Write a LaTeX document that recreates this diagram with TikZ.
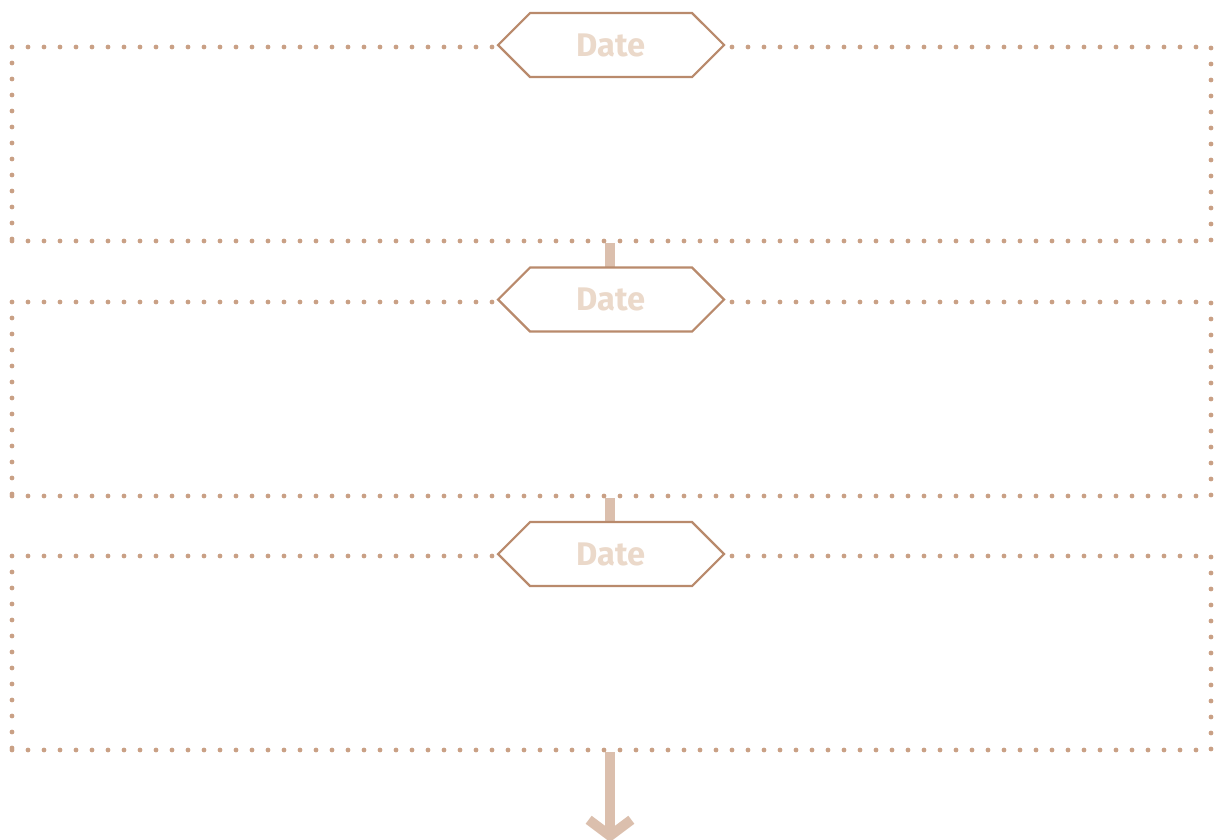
\documentclass[tikz,border=0pt]{standalone}
\usepackage{fontspec}
\setmainfont{Fira Sans}
\usetikzlibrary{positioning,shapes.symbols,arrows.meta}
\definecolor{dotbrown}{HTML}{C9A085}
\definecolor{hexbrown}{HTML}{B98A6C}
\definecolor{hextext}{HTML}{EBD9CA}
\definecolor{barbrown}{HTML}{DBBFAD}
\tikzset{
frame/.style={draw=dotbrown,line width=3.6pt,line cap=round,dash pattern=on 0pt off 12pt,
minimum width=899.25pt,minimum height=145.5pt,inner sep=0pt},
datebox/.style={signal,signal to=west and east,signal pointer angle=90,draw=hexbrown,fill=white,
line width=1.6pt,minimum width=169.5pt,minimum height=48pt,inner sep=0pt,
font=\fontsize{24.5}{24.5}\selectfont\bfseries,text=hextext},
flowbar/.style={barbrown,line width=7.5pt}
}
\begin{document}
\begin{tikzpicture}[x=0.75pt,y=-0.75pt]
\useasboundingbox (0,0) rectangle (1216,839);
% frames
\node[frame] (frame1) at (611.5,144) {};
\node[frame] (frame2) at (611.5,399) {};
\node[frame] (frame3) at (611.5,653) {};
% connectors
\coordinate (end) at (610,842);
\draw[flowbar] (frame1.south -| 610,0) -- (610,267);
\draw[flowbar] (frame2.south -| 610,0) -- (610,521);
\draw[flowbar,-{Straight Barb[length=12pt,width=32pt]}] (frame3.south -| 610,0) -- (end);
% date tags
\node[datebox] (date1) at (611,45) {Date};
\node[datebox] (date2) at (611,299.5) {Date};
\node[datebox] (date3) at (611,554) {Date};
\end{tikzpicture}
\end{document}
